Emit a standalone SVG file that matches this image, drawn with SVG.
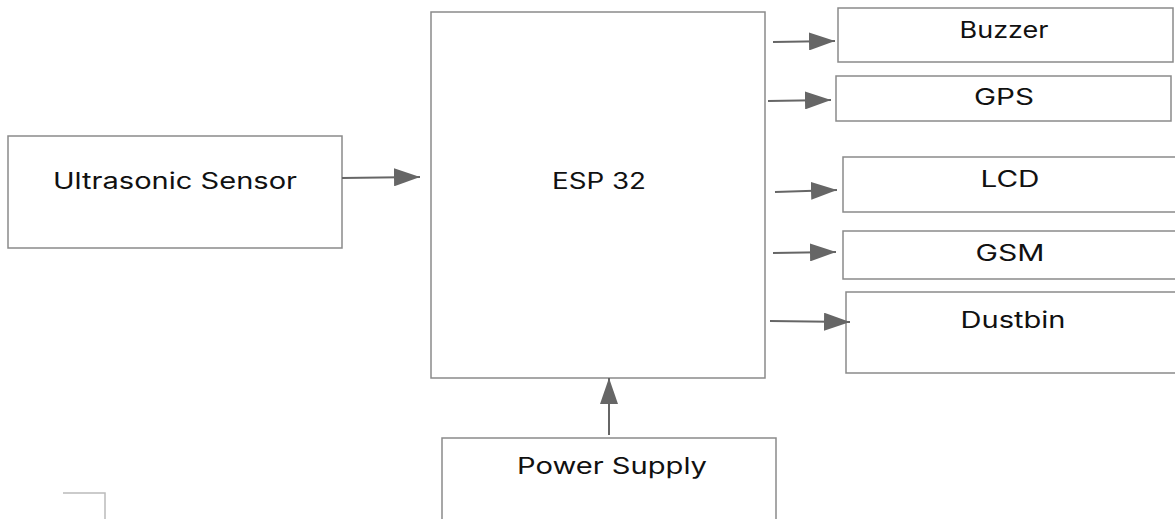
<svg xmlns="http://www.w3.org/2000/svg" width="1175" height="519" viewBox="0 0 1175 519">
<style>
.box{fill:#fff;stroke:#8a8a8a;stroke-width:1.5}
.lbl{font-family:Inter,"Liberation Sans",Arial,sans-serif;font-size:22.5px;font-weight:400;fill:#111;text-anchor:middle}
.conn{stroke:#666;stroke-width:2;fill:none}
</style>
<defs>
<marker id="ahl" markerWidth="26" markerHeight="18" refX="26" refY="9" orient="auto" markerUnits="userSpaceOnUse" viewBox="0 0 26 18">
<path d="M0,0 L26,9 L0,18 z" fill="#666"/>
</marker>
</defs>
<rect width="1175" height="519" fill="#fff"/>
<g id="esp32"><rect class="box" x="431" y="12" width="334" height="366"/><text class="lbl" x="599" y="189" textLength="94" lengthAdjust="spacingAndGlyphs">ESP 32</text></g>
<g id="ultrasonic"><rect class="box" x="8" y="136" width="334" height="112"/><text class="lbl" x="175" y="189" textLength="244" lengthAdjust="spacingAndGlyphs">Ultrasonic Sensor</text></g>
<g id="buzzer"><rect class="box" x="838" y="8" width="335" height="54"/><text class="lbl" x="1004" y="38" textLength="89" lengthAdjust="spacingAndGlyphs">Buzzer</text></g>
<g id="gps"><rect class="box" x="836" y="76" width="335" height="45"/><text class="lbl" x="1004" y="105" textLength="60" lengthAdjust="spacingAndGlyphs">GPS</text></g>
<g id="lcd"><rect class="box" x="843" y="157" width="340" height="55"/><text class="lbl" x="1010" y="187" textLength="59" lengthAdjust="spacingAndGlyphs">LCD</text></g>
<g id="gsm"><rect class="box" x="843" y="231" width="340" height="48"/><text class="lbl" x="1010" y="261" textLength="69" lengthAdjust="spacingAndGlyphs">GSM</text></g>
<g id="dustbin"><rect class="box" x="846" y="292" width="340" height="81"/><text class="lbl" x="1013" y="328" textLength="105" lengthAdjust="spacingAndGlyphs">Dustbin</text></g>
<g id="power"><rect class="box" x="442" y="438" width="334" height="100"/><text class="lbl" x="612" y="474" textLength="190" lengthAdjust="spacingAndGlyphs">Power Supply</text></g>
<g id="connectors">
<line class="conn" x1="342" y1="178" x2="420" y2="177" marker-end="url(#ahl)"/>
<line class="conn" x1="773" y1="42" x2="835" y2="41" marker-end="url(#ahl)"/>
<line class="conn" x1="768" y1="101" x2="831" y2="100" marker-end="url(#ahl)"/>
<line class="conn" x1="775" y1="192" x2="837" y2="190" marker-end="url(#ahl)"/>
<line class="conn" x1="773" y1="253" x2="836" y2="252" marker-end="url(#ahl)"/>
<line class="conn" x1="770" y1="321" x2="850" y2="322" marker-end="url(#ahl)"/>
<line class="conn" x1="609" y1="435" x2="609" y2="378" marker-end="url(#ahl)"/>
</g>
<path d="M63,493 H105 V519" fill="none" stroke="#bbb" stroke-width="1.5"/>
</svg>
